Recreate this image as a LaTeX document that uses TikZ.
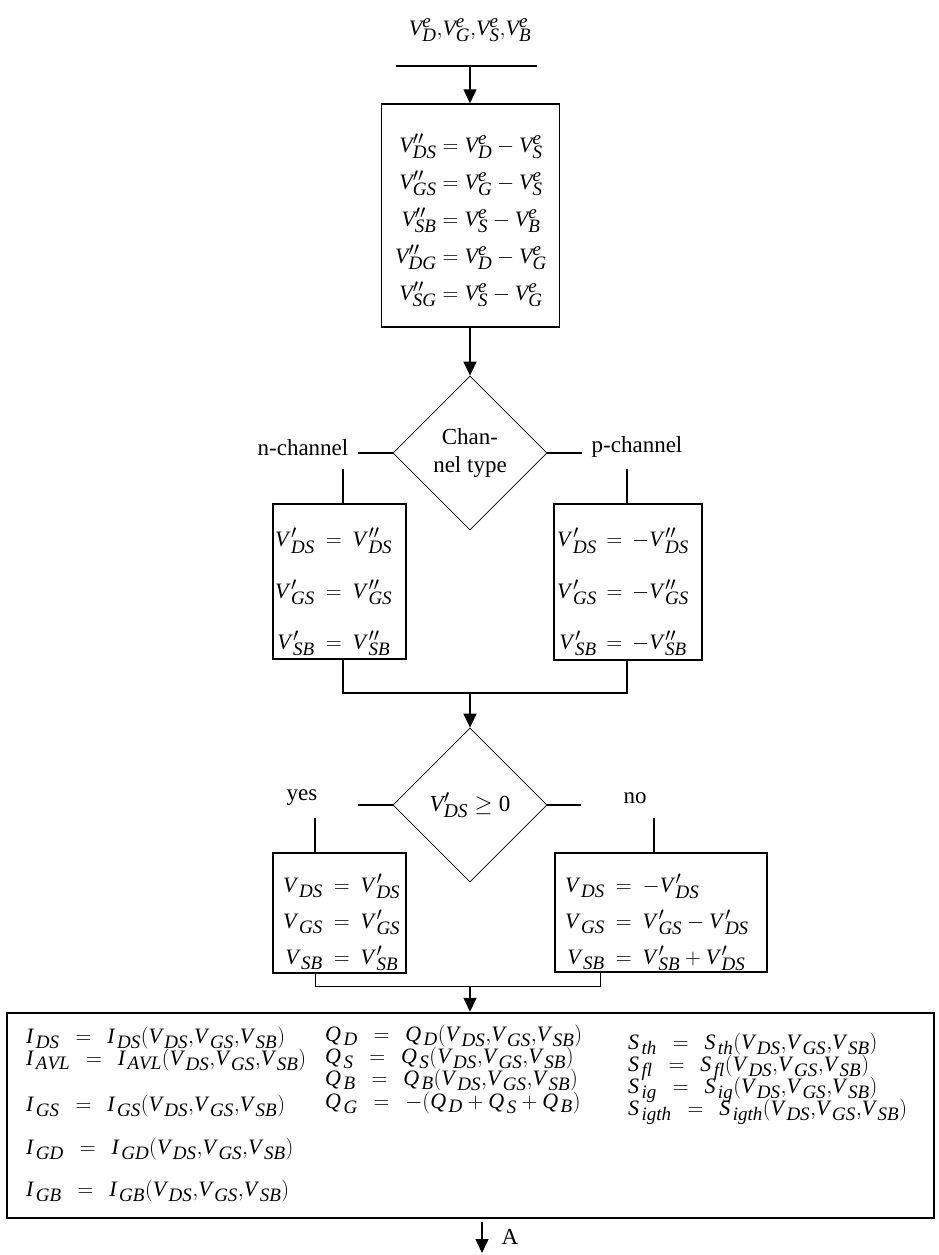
\RequirePackage{fix-cm}
\documentclass[tikz,border=0pt]{standalone}
\usepackage{fontspec}
\setmainfont{Liberation Serif}
\usetikzlibrary{shapes.geometric,arrows.meta}
\DeclareMathSizes{22}{22}{19}{15}
\DeclareMathSizes{23}{23}{19.5}{15}
\newcommand\mi[1]{\mathit{#1}}
\newcommand\vk{\mkern2mu}
\newcommand\Ve[1]{{\mi{V}\vk}^{\mi{e}}_{\mi{#1}}}
\newcommand\Vpp[1]{{\mi{V}\vk}^{\prime\prime}_{\mi{#1}}}
\newcommand\Vp[1]{{\mi{V}\vk}^{\prime}_{\mi{#1}}}
\newcommand\Vs[1]{{\mi{V}\vk}_{\mi{#1}}}
\newcommand\Ls[2]{{\mi{#1}\vk}_{\mi{#2}}}
\newcommand\fargs{(\Vs{DS}{,}\Vs{GS}{,}\Vs{SB})}
\newcommand\beqsp{\mkern8mu=\mkern8mu}
\newcommand\Fn[2]{$\Ls{#1}{#2}\beqsp\Ls{#1}{#2}\fargs$}
\newcommand\eqs[3]{{\renewcommand\arraystretch{#1}$\begin{array}{@{}r@{#2}l@{}}#3\end{array}$}}
\tikzset{
  frame/.style={draw, line width=1.5pt, inner sep=0pt},
  dia/.style={draw, diamond, line width=0.8pt, minimum width=154pt, minimum height=154pt, inner sep=0pt, align=center, font=\fontsize{23}{28}\selectfont},
  conn/.style={line width=1.5pt},
  thinconn/.style={line width=0.8pt},
  arr/.style={conn, -{Triangle[length=14pt,width=13pt]}},
  lab/.style={font=\fontsize{23}{27}\selectfont, inner sep=0pt},
  eq/.style={font=\fontsize{22}{26}\selectfont, inner sep=0pt},
  beq/.style={font=\fontsize{22}{24}\selectfont, inner sep=0pt, anchor=base west},
}
\begin{document}
\begin{tikzpicture}[x=1pt,y=-1pt]
\useasboundingbox (0,0) rectangle (939,1255);
% top input
\node[eq] (top) at (470,30) {\renewcommand\vk{}$\Ve{D}{,}\Ve{G}{,}\Ve{S}{,}\Ve{B}$};
\coordinate (tl) at (396,66);
\coordinate (tr) at (537,66);
\coordinate (tm) at (470,66);
\draw[conn] (tl) -- (tr);
% box 1
\node[frame, minimum width=178pt, minimum height=223pt] (b1) at (470.5,215.5) {};
\node[eq] (b1t) at (471,219) {\renewcommand\vk{}\eqs{1.42}{{}={}}{\Vpp{DS} & \Ve{D}-\Ve{S}\\ \Vpp{GS} & \Ve{G}-\Ve{S}\\ \Vpp{SB} & \Ve{S}-\Ve{B}\\ \Vpp{DG} & \Ve{D}-\Ve{G}\\ \Vpp{SG} & \Ve{S}-\Ve{G}}};
\draw[arr] (tm) -- (tm |- b1.north);
% diamond 1
\node[dia] (d1) at (470,453) {Chan-\\nel type};
\draw[arr] (tm |- b1.south) -- (d1.north);
\node[lab] (nch) at (303,448) {n-channel};
\node[lab] (pch) at (637,447) {p-channel};
\coordinate (nl) at (358,453);
\coordinate (pr) at (582,453);
\coordinate (nv) at (343,469);
\coordinate (pv) at (627,469);
\draw[conn] (d1.west) -- (nl);
\draw[conn] (d1.east) -- (pr);
% boxes 2
\node[frame, minimum width=133pt, minimum height=155pt] (b2l) at (339.5,581.5) {};
\node[frame, minimum width=148pt, minimum height=156pt] (b2r) at (628,582) {};
\node[eq, anchor=west] (b2lt) at (275,588) {\eqs{1.98}{\mkern9mu=\mkern9mu}{\Vp{DS} & \Vpp{DS}\\ \Vp{GS} & \Vpp{GS}\\ \Vp{SB} & \Vpp{SB}}};
\node[eq, anchor=west] (b2rt) at (557,588) {\eqs{1.98}{\mkern8mu=\mkern8mu}{\Vp{DS} & -\Vpp{DS}\\ \Vp{GS} & -\Vpp{GS}\\ \Vp{SB} & -\Vpp{SB}}};
\draw[conn] (nv) -- (nv |- b2l.north);
\draw[conn] (pv) -- (pv |- b2r.north);
% merge 1
\coordinate (m1) at (343,693);
\coordinate (m2) at (627,693);
\coordinate (mm) at (470,693);
\draw[conn] (m1 |- b2l.south) -- (m1) -- (m2) -- (m2 |- b2r.south);
% diamond 2
\node[dia] (d2) at (470,805) {\renewcommand\vk{}$\Vp{DS}\geq\mathrm{0}$};
\draw[arr] (mm) -- (d2.north);
\node[lab] (yes) at (302,798) {yes};
\node[lab] (no) at (635,798) {no};
\coordinate (yl) at (358,805);
\coordinate (nr) at (581,805);
\coordinate (yv) at (315,818);
\coordinate (nv2) at (654,818);
\draw[conn] (d2.west) -- (yl);
\draw[conn] (d2.east) -- (nr);
% boxes 3
\node[frame, minimum width=133pt, minimum height=120pt] (b3l) at (339.5,913) {};
\node[frame, minimum width=212pt, minimum height=119pt] (b3r) at (661,912.5) {};
\node[eq, anchor=west] (b3lt) at (283,921) {\eqs{1.385}{\mkern9mu=\mkern9mu}{\Vs{DS} & \Vp{DS}\\ \Vs{GS} & \Vp{GS}\\ \Vs{SB} & \Vp{SB}}};
\node[eq, anchor=west] (b3rt) at (565,921) {\eqs{1.385}{\mkern9mu=\mkern9mu}{\Vs{DS} & -\Vp{DS}\\ \Vs{GS} & \Vp{GS}-\Vp{DS}\\ \Vs{SB} & \Vp{SB}+\Vp{DS}}};
\draw[conn] (yv) -- (yv |- b3l.north);
\draw[conn] (nv2) -- (nv2 |- b3r.north);
% merge 2
\coordinate (k1) at (315,986);
\coordinate (k2) at (600,986);
\coordinate (km) at (470,986);
\draw[thinconn] (k1 |- b3l.south) -- (k1) -- (k2) -- (k2 |- b3r.south);
% big box
\node[draw, line width=2.5pt, minimum width=927pt, minimum height=205pt, inner sep=0pt] (big) at (470.5,1115.5) {};
\draw[arr] (km) -- (km |- big.north);
\node[beq] (i1) at (26,1043) {\Fn{I}{DS}};
\node[beq] (i2) at (26,1065) {\Fn{I}{AVL}};
\node[beq] (i3) at (26,1111) {\Fn{I}{GS}};
\node[beq] (i4) at (26,1154) {\Fn{I}{GD}};
\node[beq] (i5) at (26,1196) {\Fn{I}{GB}};
\node[beq] (q1) at (325,1041) {\Fn{Q}{D}};
\node[beq] (q2) at (325,1063) {\Fn{Q}{S}};
\node[beq] (q3) at (325,1085) {\Fn{Q}{B}};
\node[beq] (q4) at (325,1108) {$\Ls{Q}{G}\beqsp-(\Ls{Q}{D}+\Ls{Q}{S}+\Ls{Q}{B})$};
\node[beq] (s1) at (628,1049) {\Fn{S}{th}};
\node[beq] (s2) at (628,1071) {\Fn{S}{fl}};
\node[beq] (s3) at (628,1093) {\Fn{S}{ig}};
\node[beq] (s4) at (628,1115) {\Fn{S}{igth}};
% output
\coordinate (a1) at (482,1222);
\coordinate (a2) at (482,1253);
\draw[arr] (a1) -- (a2);
\node[lab] (A) at (510,1237) {A};
\end{tikzpicture}
\end{document}
